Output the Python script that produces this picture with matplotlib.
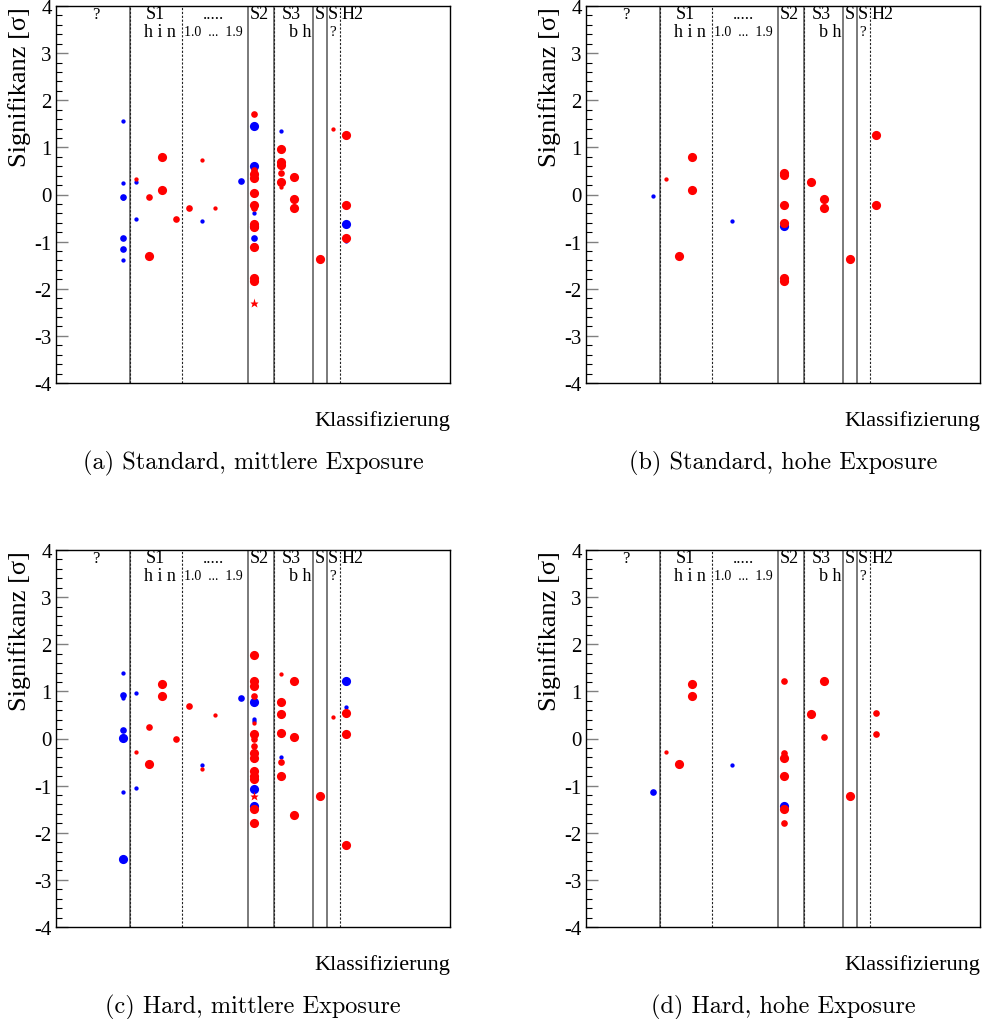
import matplotlib
matplotlib.use("Agg")
import matplotlib.pyplot as plt
from matplotlib.ticker import MultipleLocator

plt.rcParams['font.family'] = ['Liberation Serif', 'DejaVu Serif']
plt.rcParams['axes.unicode_minus'] = False

# category boundaries (x positions between classes)
solid_lines = [5.5, 14.5, 16.5, 19.5, 20.5]
dashed_lines = [5.5, 9.5, 16.5, 21.5]

# header labels: (x, text, row, fontsize)
headers = [(2.9, '?', 0, 12), (7.45, 'S1', 0, 13), (7.8, 'h i n', 1, 13),
           (11.9, '.....', 0, 12), (11.9, '1.0  ...  1.9', 1, 10),
           (15.35, 'S2', 0, 13), (17.8, 'S3', 0, 13), (18.5, 'b h', 1, 13),
           (19.95, 'S', 0, 13), (20.95, 'S', 0, 13), (20.95, '?', 1, 11),
           (22.5, 'H2', 0, 13)]

# (class position, significance, size) ; size: L big, M medium, S small
a_red = [(6, 0.32, 'S'), (7, -0.06, 'M'), (7, -1.30, 'L'), (8, 0.80, 'L'), (8, 0.10, 'L'),
         (9, -0.53, 'M'), (10, -0.29, 'M'), (11, 0.73, 'S'), (12, -0.29, 'S'),
         (15, 1.71, 'M'), (15, 0.52, 'M'), (15, 0.44, 'L'), (15, 0.35, 'L'), (15, 0.03, 'L'),
         (15, -0.22, 'L'), (15, -0.29, 'M'), (15, -0.63, 'L'), (15, -0.70, 'L'), (15, -1.12, 'L'),
         (15, -1.78, 'L'), (15, -1.83, 'L'),
         (17, 0.97, 'L'), (17, 0.68, 'L'), (17, 0.62, 'L'), (17, 0.46, 'M'), (17, 0.27, 'L'),
         (17, 0.15, 'S'), (18, 0.37, 'L'), (18, -0.10, 'L'), (18, -0.29, 'L'),
         (20, -1.36, 'L'), (21, 1.38, 'S'), (22, 1.27, 'L'), (22, -0.22, 'L'), (22, -0.92, 'L')]
a_blue = [(5, 1.56, 'S'), (5, 0.24, 'S'), (5, -0.05, 'M'), (5, -0.08, 'S'), (5, -0.92, 'M'),
          (5, -1.16, 'M'), (5, -1.40, 'S'), (6, 0.27, 'S'), (6, -0.51, 'S'), (11, -0.56, 'S'),
          (14, 0.29, 'M'), (15, 1.46, 'L'), (15, 0.60, 'L'), (15, 0.41, 'S'), (15, -0.22, 'S'),
          (15, -0.40, 'S'), (15, -0.67, 'L'), (15, -0.93, 'M'), (15, -1.09, 'M'),
          (17, 1.35, 'S'), (22, -0.62, 'L'), (22, -0.99, 'S')]
a_star = [(15, -2.30)]

b_red = [(6, 0.32, 'S'), (7, -1.30, 'L'), (8, 0.80, 'L'), (8, 0.10, 'L'),
         (15, 0.46, 'L'), (15, 0.41, 'L'), (15, -0.22, 'L'), (15, -0.61, 'L'),
         (15, -1.78, 'L'), (15, -1.83, 'L'), (17, 0.27, 'L'), (18, -0.10, 'L'), (18, -0.29, 'L'),
         (20, -1.36, 'L'), (22, 1.27, 'L'), (22, -0.22, 'L')]
b_blue = [(5, -0.04, 'S'), (11, -0.56, 'S'), (15, -0.67, 'L')]
b_star = []

c_red = [(6, -0.29, 'S'), (7, 0.24, 'M'), (7, -0.54, 'L'), (8, 1.16, 'L'), (8, 0.90, 'L'),
         (9, 0.00, 'M'), (10, 0.69, 'M'), (11, -0.64, 'S'), (12, 0.50, 'S'),
         (15, 1.77, 'L'), (15, 1.23, 'L'), (15, 1.12, 'L'), (15, 0.90, 'M'), (15, 0.32, 'S'),
         (15, 0.09, 'L'), (15, -0.01, 'M'), (15, -0.15, 'M'), (15, -0.30, 'L'), (15, -0.41, 'L'),
         (15, -0.69, 'L'), (15, -0.79, 'L'), (15, -0.85, 'L'), (15, -1.49, 'L'), (15, -1.79, 'L'),
         (17, 1.36, 'S'), (17, 0.78, 'L'), (17, 0.53, 'L'), (17, 0.12, 'L'), (17, -0.50, 'M'),
         (17, -0.80, 'L'), (18, 1.22, 'L'), (18, 0.03, 'L'), (18, -1.62, 'L'),
         (20, -1.21, 'L'), (21, 0.45, 'S'), (22, 0.55, 'L'), (22, 0.10, 'L'), (22, -2.25, 'L')]
c_blue = [(5, 1.39, 'S'), (5, 0.93, 'M'), (5, 0.85, 'S'), (5, 0.17, 'M'), (5, 0.01, 'L'),
          (5, -1.14, 'S'), (5, -2.55, 'L'), (6, 0.97, 'S'), (6, -1.05, 'S'), (11, -0.56, 'S'),
          (14, 0.87, 'M'), (15, 0.78, 'L'), (15, 0.42, 'S'), (15, 0.38, 'S'), (15, 0.06, 'S'),
          (15, -0.30, 'S'), (15, -0.45, 'S'), (15, -1.07, 'L'), (15, -1.44, 'L'),
          (17, -0.40, 'S'), (22, 1.23, 'L'), (22, 0.66, 'S')]
c_star = [(15, -1.22)]

d_red = [(6, -0.29, 'S'), (7, -0.54, 'L'), (8, 1.16, 'L'), (8, 0.90, 'L'),
         (15, 1.23, 'M'), (15, -0.30, 'M'), (15, -0.41, 'L'), (15, -0.80, 'L'),
         (15, -1.49, 'L'), (15, -1.79, 'M'), (17, 0.53, 'L'), (18, 1.22, 'L'), (18, 0.03, 'M'),
         (20, -1.21, 'L'), (22, 0.55, 'M'), (22, 0.10, 'M')]
d_blue = [(5, -1.14, 'M'), (11, -0.56, 'S'), (15, -1.44, 'L')]
d_star = []

panels = [
    ('(a) Standard, mittlere Exposure', a_red, a_blue, a_star),
    ('(b) Standard, hohe Exposure', b_red, b_blue, b_star),
    ('(c) Hard, mittlere Exposure', c_red, c_blue, c_star),
    ('(d) Hard, hohe Exposure', d_red, d_blue, d_star),
]

W, H = 983, 1020
msize = {'L': 6.6, 'M': 4.8, 'S': 3.1}
origins = [(56, 7), (586, 7), (56, 551), (586, 551)]

fig = plt.figure(figsize=(W / 100, H / 100), dpi=100)

for (caption, red, blue, star), (px, py) in zip(panels, origins):
    ax = fig.add_axes([px / W, 1 - (py + 377) / H, 394 / W, 377 / H])
    ax.set_xlim(-0.1, 29.9)
    ax.set_ylim(-4, 4)

    for x in solid_lines:
        ax.axvline(x, color='#707070', lw=1.3, zorder=1)
    for x in dashed_lines:
        ax.axvline(x, color='#222222', lw=0.8, ls=(0, (2, 1.5)), zorder=1.5)

    for pts, col in [(blue, 'blue'), (red, 'red')]:
        for s in ['L', 'M', 'S']:
            xs = [p[0] for p in pts if p[2] == s]
            ys = [p[1] for p in pts if p[2] == s]
            ax.plot(xs, ys, 'o', color=col, ms=msize[s], mec='none', zorder=3)
    if star:
        ax.plot([p[0] for p in star], [p[1] for p in star], '*', color='red',
                ms=6.5, mec='none', zorder=3)

    for x, txt, row, fs in headers:
        yy = 0.979 if row == 0 else 0.933
        ax.text(x, yy, txt, transform=ax.get_xaxis_transform(), ha='center',
                va='center', fontsize=fs)

    ax.set_xticks([])
    ax.yaxis.set_major_locator(MultipleLocator(1))
    ax.yaxis.set_minor_locator(MultipleLocator(0.2))
    ax.tick_params(axis='y', which='major', direction='in', length=8.5, width=1,
                   color='#808080', labelsize=15, pad=3)
    ax.tick_params(axis='y', which='minor', direction='in', length=4.3, width=0.8)
    for sp in ax.spines.values():
        sp.set_linewidth(1.0)

    ax.text(-0.092, 1.0, 'Signifikanz [σ]', transform=ax.transAxes, rotation=90,
            ha='center', va='top', fontsize=19)
    ax.text(1.0, -0.097, 'Klassifizierung', transform=ax.transAxes, ha='right',
            va='center', fontsize=16)
    ax.text(0.5, -0.21, caption, transform=ax.transAxes, ha='center', va='center',
            fontsize=17.5, family='cmr10')

fig.savefig('out.png', dpi=100)
